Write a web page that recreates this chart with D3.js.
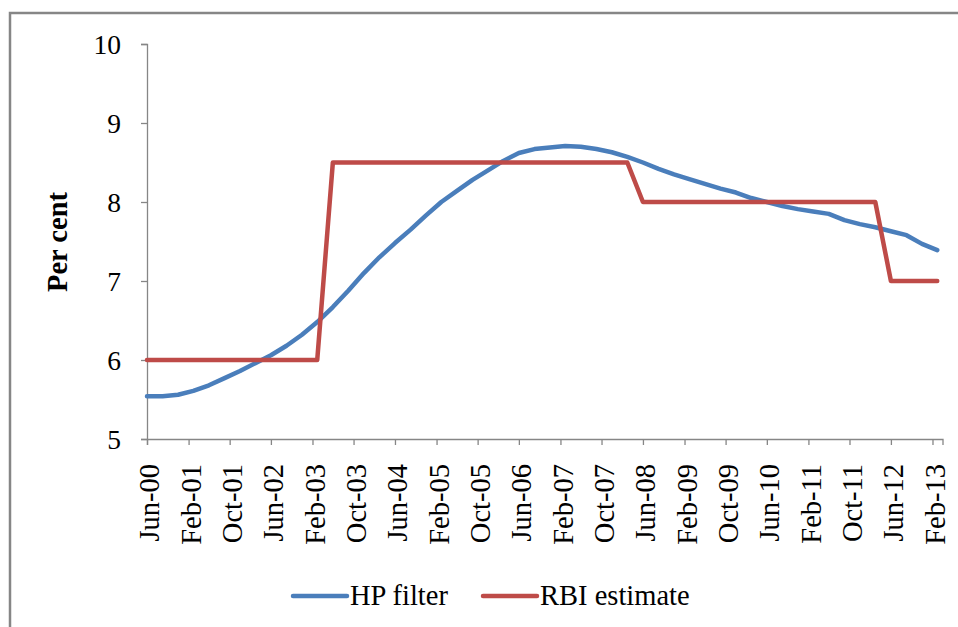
<!DOCTYPE html>
<html>
<head>
<meta charset="utf-8">
<script src="https://cdn.jsdelivr.net/npm/d3@7"></script>
<style>
  body { margin: 0; background: #fff; }
  svg text { font-family: "Liberation Serif", "Times New Roman", serif; fill: #000; }
</style>
</head>
<body>
<script>
var width = 958,
    height = 627;

var margin = {top: 44, right: 15, bottom: 188, left: 147};
var serif = '"Liberation Serif", "Times New Roman", serif';

// quarterly observations, Jun-00 to Mar-13
var firstQuarter = "Jun-00",
    lastQuarter = "Mar-13",
    axisEnd = "Apr-13";

var hpFilter = [5.54, 5.54, 5.56, 5.61, 5.68, 5.77, 5.86, 5.96, 6.06, 6.18,
                6.32, 6.48, 6.67, 6.88, 7.10, 7.30, 7.48, 7.65, 7.83, 8.00,
                8.14, 8.28, 8.40, 8.52, 8.62, 8.67, 8.69, 8.71, 8.70, 8.67,
                8.63, 8.57, 8.50, 8.42, 8.35, 8.29, 8.23, 8.17, 8.12, 8.05,
                8.00, 7.95, 7.91, 7.88, 7.85, 7.77, 7.72, 7.68, 7.63, 7.58,
                7.47, 7.39];

var rbiEstimate = [6, 6, 6, 6, 6, 6, 6, 6, 6, 6,
                   6, 6, 8.5, 8.5, 8.5, 8.5, 8.5, 8.5, 8.5, 8.5,
                   8.5, 8.5, 8.5, 8.5, 8.5, 8.5, 8.5, 8.5, 8.5, 8.5,
                   8.5, 8.5, 8, 8, 8, 8, 8, 8, 8, 8,
                   8, 8, 8, 8, 8, 8, 8, 8, 7, 7,
                   7, 7];

var xTickLabels = ["Jun-00", "Feb-01", "Oct-01", "Jun-02", "Feb-03", "Oct-03", "Jun-04",
                   "Feb-05", "Oct-05", "Jun-06", "Feb-07", "Oct-07", "Jun-08", "Feb-09",
                   "Oct-09", "Jun-10", "Feb-11", "Oct-11", "Jun-12", "Feb-13"];
var yTicks = [5, 6, 7, 8, 9, 10];

var seriesNames = ["HP filter", "RBI estimate"];
var seriesColors = ["#4a7ebb", "#be4b48"];

var parse = d3.timeParse("%b-%y");
var quarters = d3.timeMonth.range(parse(firstQuarter), d3.timeMonth.offset(parse(lastQuarter), 1), 3);

var svg = d3.select("body").append("svg")
    .attr("width", width)
    .attr("height", height);

// outer chart frame (continues past the picture edge)
svg.append("rect")
    .attr("x", 10).attr("y", 13)
    .attr("width", 1000).attr("height", 700)
    .attr("fill", "none")
    .attr("stroke", "#868686")
    .attr("stroke-width", 2.5);

var xScale = d3.scaleTime()
    .domain([parse(firstQuarter), parse(axisEnd)])
    .range([margin.left, width - margin.right - 0.5]);

var yScale = d3.scaleLinear()
    .domain([5, 10])
    .range([height - margin.bottom, margin.top]);

// y axis
var axisY = d3.axisLeft(yScale).tickValues(yTicks).tickFormat(d3.format("d"))
    .tickSize(6).tickPadding(20);
var gy = svg.append("g")
    .attr("transform", "translate(" + margin.left + ",0)")
    .call(axisY);
gy.attr("font-family", null);
gy.selectAll("text")
    .style("font-family", serif)
    .style("font-size", "27.5px")
    .attr("dy", "0.34em");

// x axis
var axisX = d3.axisBottom(xScale)
    .tickValues(xTickLabels.map(parse))
    .tickSize(6)
    .tickFormat(d3.timeFormat("%b-%y"));
var gx = svg.append("g")
    .attr("transform", "translate(0," + (height - margin.bottom) + ")")
    .call(axisX);
gx.attr("font-family", null);
gx.selectAll("text")
    .style("font-family", serif)
    .style("font-size", "28.5px")
    .attr("text-anchor", "end")
    .attr("x", 0).attr("y", 0)
    .attr("dy", "0.42em")
    .attr("transform", "translate(0,25) rotate(-90)");

svg.selectAll(".domain, .tick line")
    .attr("stroke", "#868686")
    .attr("stroke-width", 1.3);

// y title
svg.append("text")
    .attr("transform", "translate(57,242) rotate(-90)")
    .attr("text-anchor", "middle")
    .attr("dy", "0.35em")
    .style("font-family", serif)
    .style("font-size", "28.5px")
    .style("font-weight", "bold")
    .text("Per cent");

var line = d3.line()
    .x(function (d, i) { return xScale(quarters[i]); })
    .y(function (d) { return yScale(d); });

[hpFilter, rbiEstimate].forEach(function (values, k) {
    svg.append("path")
        .datum(values)
        .attr("fill", "none")
        .attr("stroke", seriesColors[k])
        .attr("stroke-width", 4.5)
        .attr("stroke-linejoin", "round")
        .attr("stroke-linecap", "round")
        .attr("d", line);
});

// legend
var legendX = [293, 483];
seriesNames.forEach(function (name, k) {
    var g = svg.append("g").attr("transform", "translate(" + legendX[k] + ",596)");
    g.append("line")
        .attr("x1", 0).attr("x2", 54)
        .attr("stroke", seriesColors[k])
        .attr("stroke-width", 4.5)
        .attr("stroke-linecap", "round");
    g.append("text")
        .attr("x", 57).attr("y", 9)
        .style("font-family", serif)
        .style("font-size", "28.5px")
        .text(name);
});
</script>
</body>
</html>
